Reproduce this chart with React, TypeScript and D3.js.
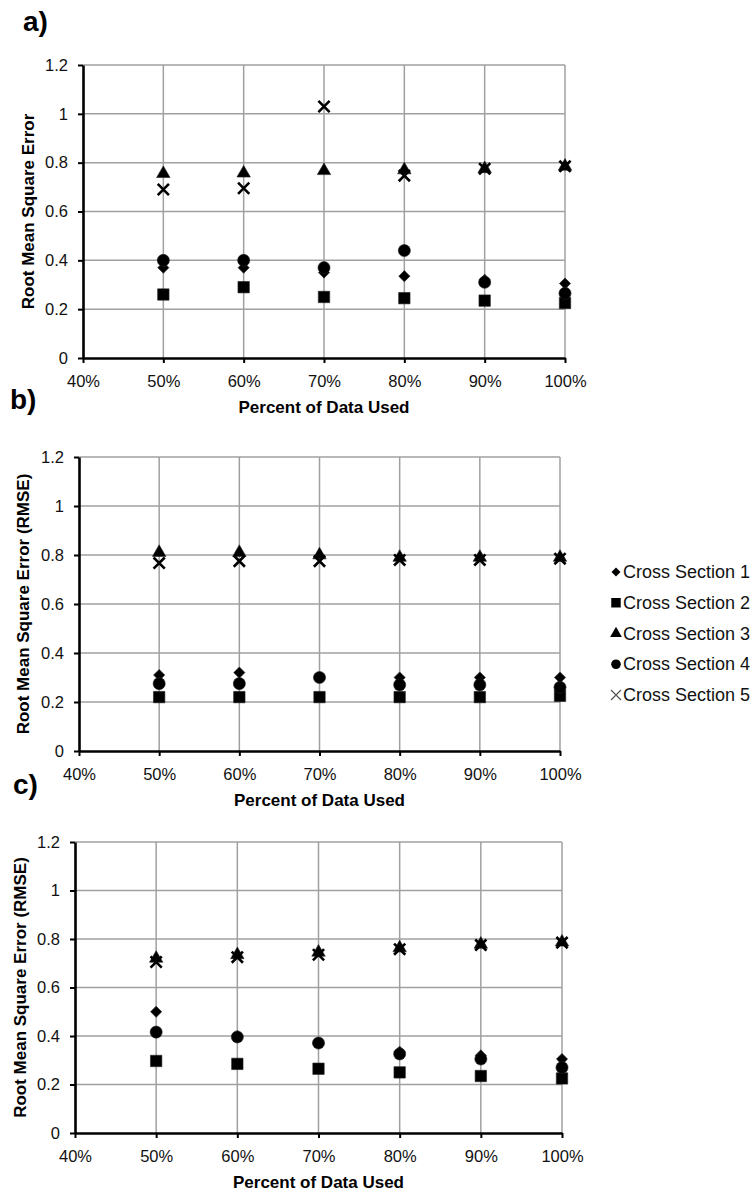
import { useEffect, useRef } from "react";
import * as d3 from "d3";

// shared axes
const percentTicks = [0.4, 0.5, 0.6, 0.7, 0.8, 0.9, 1.0];
const rmseTicks = [0, 0.2, 0.4, 0.6, 0.8, 1, 1.2];
const percentUsed = [0.5, 0.6, 0.7, 0.8, 0.9, 1.0];
const seriesNames = ["Cross Section 1", "Cross Section 2", "Cross Section 3", "Cross Section 4", "Cross Section 5"];
const markerTypes = ["diamond", "square", "triangle", "circle", "x"];

// panel a)
const aCs1 = [0.37, 0.37, 0.35, 0.335, 0.32, 0.305];
const aCs2 = [0.26, 0.29, 0.25, 0.245, 0.235, 0.225];
const aCs3 = [0.755, 0.757, 0.767, 0.77, 0.775, 0.785];
const aCs4 = [0.40, 0.40, 0.37, 0.44, 0.31, 0.265];
const aCs5 = [0.69, 0.695, 1.03, 0.747, 0.775, 0.785];

// panel b)
const bCs1 = [0.31, 0.32, 0.30, 0.30, 0.30, 0.30];
const bCs2 = [0.22, 0.22, 0.22, 0.22, 0.22, 0.225];
const bCs3 = [0.81, 0.81, 0.80, 0.79, 0.79, 0.79];
const bCs4 = [0.275, 0.275, 0.30, 0.27, 0.27, 0.26];
const bCs5 = [0.767, 0.775, 0.775, 0.78, 0.78, 0.785];

// panel c)
const cCs1 = [0.50, 0.40, 0.37, 0.335, 0.32, 0.305];
const cCs2 = [0.297, 0.285, 0.265, 0.25, 0.235, 0.225];
const cCs3 = [0.72, 0.735, 0.745, 0.763, 0.778, 0.787];
const cCs4 = [0.416, 0.396, 0.371, 0.326, 0.305, 0.27];
const cCs5 = [0.705, 0.725, 0.735, 0.758, 0.775, 0.785];

const panels = [
  { label: "a)", yTitle: "Root Mean Square Error", series: [aCs1, aCs2, aCs3, aCs4, aCs5],
    left: 83, right: 565, top: 65, bottom: 358, labelX: 23, labelY: 31, yTitleX: 28 },
  { label: "b)", yTitle: "Root Mean Square Error (RMSE)", series: [bCs1, bCs2, bCs3, bCs4, bCs5],
    left: 79, right: 560, top: 457, bottom: 751, labelX: 10, labelY: 409, yTitleX: 23 },
  { label: "c)", yTitle: "Root Mean Square Error (RMSE)", series: [cCs1, cCs2, cCs3, cCs4, cCs5],
    left: 75, right: 562, top: 842, bottom: 1133, labelX: 13, labelY: 794, yTitleX: 20 },
];

const font = "'Liberation Sans', Arial, sans-serif";

const symbolFor: Record<string, d3.SymbolType> = {
  diamond: d3.symbolDiamond2,
  square: d3.symbolSquare,
  triangle: d3.symbolTriangle,
  circle: d3.symbolCircle,
};

const plotSizes: Record<string, number> = { diamond: 80, square: 130, triangle: 78, circle: 115, x: 5.6 };
const legendSizes: Record<string, number> = { diamond: 52, square: 90, triangle: 60, circle: 72, x: 5 };

const markerPath = (type: string, size: number) => {
  if (type === "x") {
    const p = d3.path();
    p.moveTo(-size, -size); p.lineTo(size, size);
    p.moveTo(size, -size); p.lineTo(-size, size);
    return p.toString();
  }
  return d3.symbol(symbolFor[type], size)() as string;
};

const App = () => {
  const ref = useRef<SVGSVGElement>(null);

  useEffect(() => {
    const svg = d3.select(ref.current);
    svg.selectAll("*").remove();

    panels.forEach((pn) => {
      const g = svg.append("g");
      const x = d3.scaleLinear().domain([0.4, 1.0]).range([pn.left, pn.right]);
      const y = d3.scaleLinear().domain([0, 1.2]).range([pn.bottom, pn.top]);

      // gridlines
      g.selectAll(".hgrid").data(rmseTicks.filter((t) => t > 0)).join("line")
        .attr("x1", pn.left).attr("x2", pn.right)
        .attr("y1", (d) => y(d)).attr("y2", (d) => y(d))
        .attr("stroke", "#a0a0a0").attr("stroke-width", 1.5);
      g.selectAll(".vgrid").data(percentTicks.filter((t) => t > 0.4)).join("line")
        .attr("x1", (d) => x(d)).attr("x2", (d) => x(d))
        .attr("y1", pn.top).attr("y2", pn.bottom)
        .attr("stroke", "#a0a0a0").attr("stroke-width", 1.5);

      // axes
      const xAxis = g.append("g")
        .attr("transform", `translate(0,${pn.bottom})`)
        .call(d3.axisBottom(x).tickValues(percentTicks).tickFormat(d3.format(".0%"))
          .tickSize(5).tickSizeOuter(0).tickPadding(12));
      const yAxis = g.append("g")
        .attr("transform", `translate(${pn.left},0)`)
        .call(d3.axisLeft(y).tickValues(rmseTicks).tickFormat((d) => String(d))
          .tickSize(5).tickSizeOuter(0).tickPadding(10));
      [xAxis, yAxis].forEach((ax) => {
        ax.select(".domain").attr("stroke", "#000").attr("stroke-width", 2.6);
        ax.selectAll(".tick line").attr("stroke", "#000").attr("stroke-width", 2);
        ax.selectAll(".tick text").attr("fill", "#111")
          .style("font-family", font).style("font-size", "16.5px");
      });

      // series points, drawn in series order so the X sits on top
      pn.series.forEach((vals, si) => {
        const type = markerTypes[si];
        g.append("g").selectAll("path").data(vals).join("path")
          .attr("transform", (d, i) => `translate(${x(percentUsed[i])},${y(d)})`)
          .attr("d", markerPath(type, plotSizes[type]))
          .attr("fill", type === "x" ? "none" : "#000")
          .attr("stroke", type === "x" ? "#000" : "#222")
          .attr("stroke-width", type === "x" ? 2.6 : 0.6);
      });

      // titles
      g.append("text")
        .attr("x", (pn.left + pn.right) / 2).attr("y", pn.bottom + 55)
        .attr("text-anchor", "middle")
        .style("font-family", font).style("font-size", "17px").style("font-weight", "bold")
        .text("Percent of Data Used");
      g.append("text")
        .attr("transform", `translate(${pn.yTitleX},${(pn.top + pn.bottom) / 2}) rotate(-90)`)
        .attr("text-anchor", "middle").attr("dominant-baseline", "central")
        .style("font-family", font).style("font-size", "17px").style("font-weight", "bold")
        .text(pn.yTitle);
      g.append("text")
        .attr("x", pn.labelX).attr("y", pn.labelY)
        .style("font-family", font).style("font-size", "28px").style("font-weight", "bold")
        .text(pn.label);
    });

    // legend
    const legend = svg.append("g");
    const rowY = d3.scalePoint().domain(seriesNames).range([572, 695]);
    seriesNames.forEach((name, i) => {
      const type = markerTypes[i];
      legend.append("path")
        .attr("transform", `translate(616,${rowY(name)})`)
        .attr("d", markerPath(type, legendSizes[type]))
        .attr("fill", type === "x" ? "none" : "#000")
        .attr("stroke", type === "x" ? "#555" : "none")
        .attr("stroke-width", 1.2);
      legend.append("text")
        .attr("x", 623).attr("y", rowY(name))
        .attr("dominant-baseline", "central")
        .style("font-family", font).style("font-size", "18px").attr("fill", "#111")
        .text(name);
    });
  }, []);

  return (
    <svg ref={ref} width={754} height={1194}
      style={{ position: "absolute", left: 0, top: 0, background: "#fff" }} />
  );
};

export default App;
